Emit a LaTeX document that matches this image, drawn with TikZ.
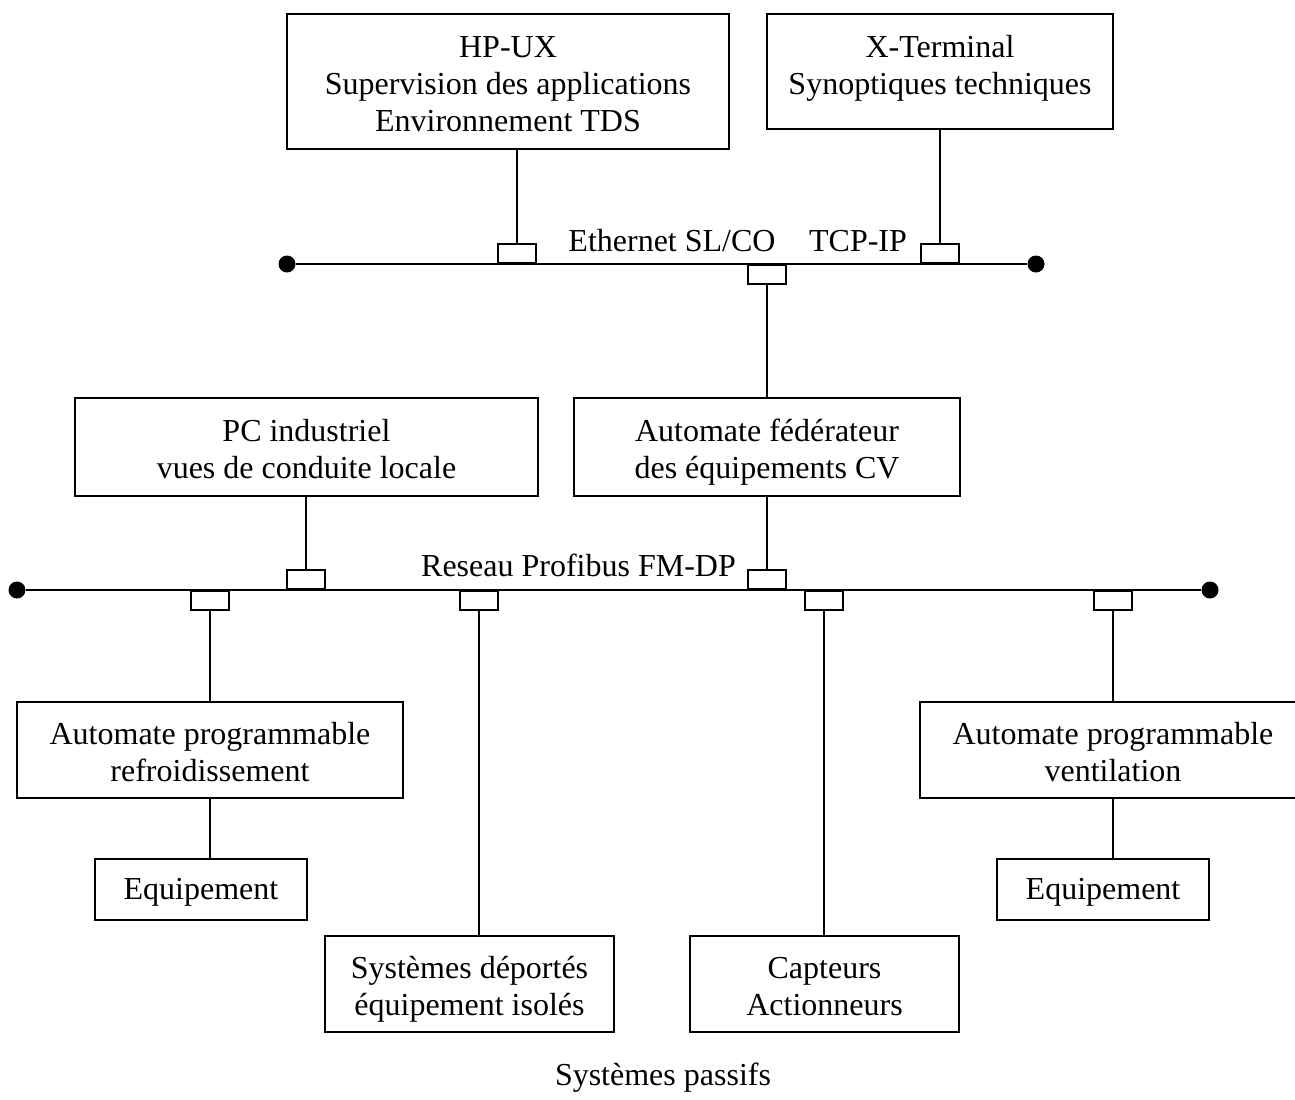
\documentclass[tikz,border=0pt]{standalone}
\usepackage{fontspec}
\setmainfont{Liberation Serif}
\usetikzlibrary{positioning}

\newcommand\bl{\rule[-4pt]{0pt}{18pt}}
\newcommand\lighaut{\rule{0pt}{16.5pt}}
\newcommand\ligbas[1][4pt]{\rule[-#1]{0pt}{#1}}

\begin{document}
\begin{tikzpicture}[
  x=0.5pt, y=-0.5pt, line width=0.8pt,
  bloc/.style={rectangle, draw, inner sep=0pt, align=center,
    font=\fontsize{16}{18.5}\selectfont},
  prise/.style={rectangle, draw, fill=white, inner sep=0pt, minimum width=19pt, minimum height=9.5pt},
  borne/.style={circle, fill, inner sep=0pt, minimum size=8.5pt},
  legende/.style={inner sep=0pt, font=\fontsize{16}{18.5}\selectfont}
]
  \useasboundingbox (0,0) rectangle (1295,1099);

  \node[bloc, minimum width=221pt, minimum height=67.5pt] (hpux)  at (508,81.5) {\lighaut HP-UX\\Supervision des applications\\Environnement TDS\ligbas};
  \node[bloc, minimum width=173pt, minimum height=57.5pt] (xterm) at (940,71.5) {\lighaut X-Terminal\\Synoptiques techniques\ligbas[12.5pt]};
  \node[bloc, minimum width=231.5pt, minimum height=49pt] (pcind) at (306.5,447) {\lighaut PC industriel\\vues de conduite locale\ligbas};
  \node[bloc, minimum width=193pt, minimum height=49pt]   (fede)  at (767,447) {\lighaut Automate fédérateur\\des équipements CV\ligbas};
  \node[bloc, minimum width=193pt, minimum height=48pt]   (refroid) at (210,750) {\lighaut Automate programmable\\refroidissement\ligbas};
  \node[bloc, minimum width=193pt, minimum height=48pt]   (ventil)  at (1113,750) {\lighaut Automate programmable\\ventilation\ligbas};
  \node[bloc, minimum width=106pt, minimum height=30.5pt] (equipA)  at (201,889.5) {\bl Equipement\bl};
  \node[bloc, minimum width=106pt, minimum height=30.5pt] (equipB)  at (1103,889.5) {\bl Equipement\bl};
  \node[bloc, minimum width=144.5pt, minimum height=48pt] (deport)  at (469.5,984) {\lighaut Systèmes déportés\\équipement isolés\ligbas};
  \node[bloc, minimum width=134.5pt, minimum height=48pt] (capteur) at (824.5,984) {\lighaut Capteurs\\Actionneurs\ligbas};

  % bus Ethernet
  \node[borne] (ethG) at (287,264) {};
  \node[borne] (ethD) at (1036,264) {};
  \draw (ethG) -- (ethD);
  \node[prise, anchor=south] (pHP) at (517,264) {};
  \node[prise, anchor=south] (pXT) at (940,264) {};
  \node[prise, anchor=north] (pFE) at (767,264) {};
  \node[legende, anchor=base] (eth) at (672,251) {Ethernet SL/CO};
  \node[legende, anchor=base] (tcp) at (858,251) {TCP-IP};

  % bus Profibus
  \node[borne] (pfbG) at (17,590) {};
  \node[borne] (pfbD) at (1210,590) {};
  \draw (pfbG) -- (pfbD);
  \node[prise, anchor=south] (pPC) at (306,590) {};
  \node[prise, anchor=south] (pFB) at (767,590) {};
  \node[prise, anchor=north] (pA) at (210,590) {};
  \node[prise, anchor=north] (pD) at (479,590) {};
  \node[prise, anchor=north] (pC) at (824,590) {};
  \node[prise, anchor=north] (pV) at (1113,590) {};
  \node[legende, anchor=base] (pfb) at (578.5,576) {Reseau Profibus FM-DP};

  \draw (pHP.north) -- (pHP.north |- hpux.south);
  \draw (pXT.north) -- (pXT.north |- xterm.south);
  \draw (pFE.south) -- (fede.north);
  \draw (fede.south) -- (pFB.north);
  \draw (pPC.north) -- (pPC.north |- pcind.south);
  \draw (pA.south) -- (refroid.north);
  \draw (refroid.south) -- (refroid.south |- equipA.north);
  \draw (pD.south) -- (pD.south |- deport.north);
  \draw (pC.south) -- (pC.south |- capteur.north);
  \draw (pV.south) -- (ventil.north);
  \draw (ventil.south) -- (ventil.south |- equipB.north);

  \node[legende, anchor=base] (passif) at (663,1085) {Systèmes passifs};
\end{tikzpicture}
\end{document}
